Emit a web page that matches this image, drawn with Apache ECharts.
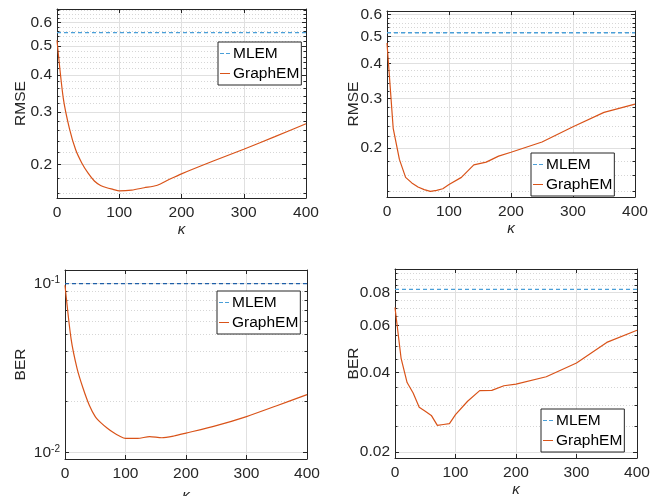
<!DOCTYPE html>
<html>
<head>
<meta charset="utf-8">
<script src="https://cdn.jsdelivr.net/npm/echarts@6/dist/echarts.min.js"></script>
<style>
html, body { margin: 0; padding: 0; background: #fff; }
#chart { width: 660px; height: 496px; }
</style>
</head>
<body>
<div id="chart"></div>
<script>
// kappa samples shared by all four panels
var kappa = [0, 10, 20, 30, 40, 50, 60, 70, 80, 90, 100, 120, 140, 160, 180, 200, 250, 300, 350, 400];

// top-left / top-right: RMSE
var rmseLeft = [0.523, 0.335, 0.264, 0.224, 0.202, 0.187, 0.176, 0.170, 0.167, 0.165, 0.163, 0.164, 0.167, 0.170, 0.178, 0.186, 0.205, 0.225, 0.248, 0.274];
var rmseRight = [0.474, 0.235, 0.182, 0.157, 0.150, 0.145, 0.142, 0.140, 0.141, 0.143, 0.148, 0.157, 0.174, 0.178, 0.187, 0.193, 0.210, 0.238, 0.268, 0.287];
// bottom-left / bottom-right: BER
var berLeft = [0.098, 0.0473, 0.0314, 0.0239, 0.0191, 0.0163, 0.0149, 0.0139, 0.0131, 0.0125, 0.0121, 0.0121, 0.0124, 0.0122, 0.0125, 0.0130, 0.0144, 0.0163, 0.0189, 0.0220];
var berRight = [0.0703, 0.0453, 0.0366, 0.0334, 0.0295, 0.0285, 0.0275, 0.0252, 0.0254, 0.0256, 0.0277, 0.0311, 0.0341, 0.0342, 0.0356, 0.0361, 0.0385, 0.0434, 0.0519, 0.0577];

// MLEM baselines (constant)
var mlem = [0.555, 0.516, 0.1, 0.0824];

// y ticks
var majorRmse = [0.2, 0.3, 0.4, 0.5, 0.6];
var minorRmseLeft = [0.16, 0.18, 0.22, 0.24, 0.26, 0.28, 0.32, 0.34, 0.36, 0.38, 0.42, 0.44, 0.46, 0.48, 0.52, 0.54, 0.56, 0.58, 0.62, 0.64, 0.66];
var minorRmseRight = [0.14, 0.16, 0.18, 0.22, 0.24, 0.26, 0.28, 0.32, 0.34, 0.36, 0.38, 0.42, 0.44, 0.46, 0.48, 0.52, 0.54, 0.56, 0.58];
var majorBerLeft = [0.01, 0.1];
var minorBerLeft = [0.02, 0.03, 0.04, 0.05, 0.06, 0.07, 0.08, 0.09];
var majorBerRight = [0.02, 0.04, 0.06, 0.08];
var minorBerRight = [0.025, 0.03, 0.035, 0.045, 0.05, 0.055, 0.065, 0.07, 0.075, 0.085, 0.09, 0.095];

var FONT = '"Liberation Sans", Arial, Helvetica, sans-serif';
var INK = '#262626';
var ORANGE = '#D95319';
var LIGHTBLUE = '#4a9fd8';

// legend line samples
var DASH_ICON = 'path://M0,0h4v1h-4zM6,0h4v1h-4z';
var LINE_ICON = 'path://M0,0h10v1h-10z';

var panels = [
    { grid: {left: 57, top: 9, width: 249, height: 189}, yName: 'RMSE', nameGap: 28, xNameGap: 24,
      min: 0.1543, max: 0.666, major: majorRmse, minor: minorRmseLeft, values: rmseLeft,
      mlemColor: LIGHTBLUE, smooth: 0.25, legend: {left: 218, top: 42}, pow: false },
    { grid: {left: 387, top: 11, width: 248, height: 186}, yName: 'RMSE', nameGap: 25, xNameGap: 24,
      min: 0.1336, max: 0.617, major: majorRmse, minor: minorRmseRight, values: rmseRight,
      mlemColor: LIGHTBLUE, smooth: false, legend: {left: 531, top: 153}, pow: false },
    { grid: {left: 65, top: 270, width: 242, height: 189}, yName: 'BER', nameGap: 36, xNameGap: 29,
      min: 0.00913, max: 0.1206, major: majorBerLeft, minor: minorBerLeft, values: berLeft,
      mlemColor: '#1f5fa8', smooth: 0.25, legend: {left: 217, top: 291}, pow: true },
    { grid: {left: 395, top: 269, width: 242, height: 189}, yName: 'BER', nameGap: 33, xNameGap: 24,
      min: 0.01898, max: 0.0983, major: majorBerRight, minor: minorBerRight, values: berRight,
      mlemColor: LIGHTBLUE, smooth: false, legend: {left: 541, top: 409}, pow: false }
];

function fmtLabel(pow) {
    return function (v) {
        if (pow) {
            return '10{sup|' + Math.round(Math.log(v) / Math.LN10) + '}';
        }
        return String(+(+v).toFixed(3));
    };
}

var grids = [], xAxes = [], yAxes = [], series = [], legends = [];

panels.forEach(function (p, i) {
    grids.push(Object.assign({outerBoundsMode: 'none', containLabel: false}, p.grid));
    var xi = xAxes.length;
    xAxes.push({
        gridIndex: i, type: 'value', min: 0, max: 400, interval: 100, position: 'bottom',
        name: 'κ', nameLocation: 'middle', nameGap: p.xNameGap, nameMoveOverlap: false,
        nameTextStyle: {fontFamily: FONT, fontSize: 15, fontStyle: 'italic', color: INK},
        axisLine: {lineStyle: {color: INK, width: 1}},
        axisTick: {inside: true, length: 4, lineStyle: {color: INK}},
        axisLabel: {fontFamily: FONT, fontSize: 15.5, color: INK, margin: 7},
        splitLine: {show: true, lineStyle: {color: '#e0e0e0', width: 1}}
    });
    xAxes.push({
        gridIndex: i, type: 'value', min: 0, max: 400, interval: 100, position: 'top',
        axisLine: {lineStyle: {color: INK, width: 1}},
        axisTick: {inside: true, length: 4, lineStyle: {color: INK}},
        axisLabel: {show: false}, splitLine: {show: false}
    });
    var yi = yAxes.length;
    var base = {gridIndex: i, type: 'log', logBase: 10, min: p.min, max: p.max};
    // left major with labels
    yAxes.push(Object.assign({}, base, {
        position: 'left',
        name: p.yName, nameLocation: 'middle', nameGap: p.nameGap, nameMoveOverlap: false,
        nameTextStyle: {fontFamily: FONT, fontSize: 15.5, color: INK},
        axisLine: {show: true, lineStyle: {color: INK, width: 1}},
        axisTick: {inside: true, length: 4, customValues: p.major, lineStyle: {color: INK}},
        axisLabel: {customValues: p.major, fontFamily: FONT, fontSize: 15.5, color: INK, margin: 5,
            formatter: fmtLabel(p.pow),
            rich: {sup: {fontFamily: FONT, fontSize: 10, color: INK, verticalAlign: 'top', lineHeight: 10}}},
        splitLine: {show: true, lineStyle: {color: '#e0e0e0', width: 1}},
        minorTick: {show: false}, minorSplitLine: {show: false}
    }));
    // left minor (dotted grid)
    yAxes.push(Object.assign({}, base, {
        position: 'left',
        axisLine: {show: false},
        axisTick: {inside: true, length: 2.5, customValues: p.minor, lineStyle: {color: INK}},
        axisLabel: {show: false, customValues: p.minor},
        splitLine: {show: true, lineStyle: {color: '#d6d6d6', width: 1, type: [1, 2]}}
    }));
    // right mirrors
    yAxes.push(Object.assign({}, base, {
        position: 'right',
        axisLine: {show: true, lineStyle: {color: INK, width: 1}},
        axisTick: {inside: true, length: 4, customValues: p.major, lineStyle: {color: INK}},
        axisLabel: {show: false, customValues: p.major},
        splitLine: {show: false}
    }));
    yAxes.push(Object.assign({}, base, {
        position: 'right',
        axisLine: {show: false},
        axisTick: {inside: true, length: 2.5, customValues: p.minor, lineStyle: {color: INK}},
        axisLabel: {show: false, customValues: p.minor},
        splitLine: {show: false}
    }));

    series.push({
        name: 'MLEM', type: 'line', xAxisIndex: xi, yAxisIndex: yi,
        data: [[kappa[0], mlem[i]], [kappa[kappa.length - 1], mlem[i]]],
        symbol: 'none', silent: true, z: 3,
        lineStyle: {color: p.mlemColor, width: 1.3, type: [4, 3]},
        itemStyle: {color: LIGHTBLUE}
    });
    series.push({
        name: 'GraphEM', type: 'line', xAxisIndex: xi, yAxisIndex: yi,
        data: kappa.map(function (k, j) { return [k, p.values[j]]; }),
        symbol: 'none', smooth: p.smooth, silent: true, z: 4,
        lineStyle: {color: ORANGE, width: 1.2},
        itemStyle: {color: ORANGE}
    });

    legends.push({
        left: p.legend.left, top: p.legend.top, orient: 'vertical',
        data: [
            {name: 'MLEM', icon: DASH_ICON, itemStyle: {color: LIGHTBLUE, borderWidth: 0}},
            {name: 'GraphEM', icon: LINE_ICON, itemStyle: {color: ORANGE, borderWidth: 0}}
        ],
        backgroundColor: '#fff', borderColor: INK, borderWidth: 1, borderRadius: 0,
        padding: [3, 2, 3, 2], itemWidth: 10, itemHeight: 1.3, itemGap: 3,
        selectedMode: false,
        textStyle: {fontFamily: FONT, fontSize: 15.5, color: '#000', lineHeight: 17, padding: [0, 0, 0, -2]}
    });
});

var myChart = echarts.init(document.getElementById('chart'), null, {renderer: 'canvas'});
var option = {
    animation: false,
    backgroundColor: '#fff',
    grid: grids,
    xAxis: xAxes,
    yAxis: yAxes,
    legend: legends,
    series: series
};
myChart.setOption(option);
</script>
</body>
</html>
